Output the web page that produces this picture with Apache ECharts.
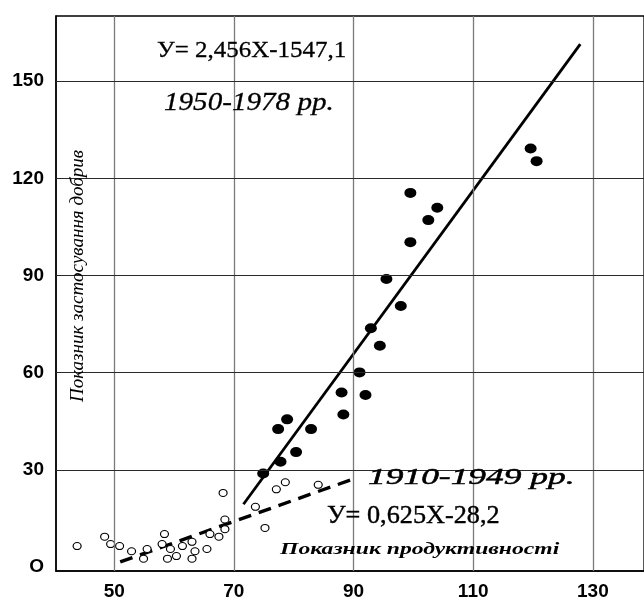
<!DOCTYPE html>
<html>
<head>
<meta charset="utf-8">
<script src="https://cdn.jsdelivr.net/npm/echarts@6/dist/echarts.min.js"></script>
<style>
html,body{margin:0;padding:0;background:#fff;}
#chart{width:644px;height:601px;}
</style>
</head>
<body>
<div id="chart"></div>
<script>
// Tick labels
var xTicks = [50, 70, 90, 110, 130];
var yTicks = [0, 30, 60, 90, 120, 150];

// 1910-1949 (open circles)
var oldPoints = [
  [43.8, 6.5], [48.4, 9.4], [49.4, 7.1], [50.9, 6.5], [52.9, 4.9], [54.9, 2.6],
  [55.5, 5.6], [58.0, 7.1], [58.4, 10.2], [58.9, 2.6], [59.4, 5.6], [60.4, 3.4],
  [61.4, 6.5], [63.0, 7.8], [63.5, 4.9], [63.0, 2.6], [65.5, 5.6], [66.0, 10.2],
  [67.5, 9.4], [68.5, 11.7], [68.5, 14.7], [68.2, 22.9], [73.6, 18.6], [75.2, 12.1],
  [77.1, 24.0], [78.6, 26.2], [84.1, 25.4]
];

// 1950-1978 (filled points)
var newPoints = [
  [119.6, 129.2], [120.6, 125.3], [99.5, 115.5], [104.0, 110.9], [102.5, 107.1],
  [99.5, 100.3], [95.5, 88.9], [97.9, 80.6], [92.9, 73.7], [94.4, 68.3],
  [91.0, 60.1], [88.0, 53.9], [92.0, 53.1], [88.3, 47.1], [78.9, 45.6],
  [77.4, 42.6], [82.9, 42.6], [80.4, 35.5], [77.8, 32.5], [74.9, 28.9]
];

// Regression lines (end points)
var fitNew = [[71.6, 19.4], [127.9, 161.4]];
var fitOld = [[51.0, 1.6], [89.5, 26.9]];

// Texts
var eqNew = 'У= 2,456X-1547,1';
var periodNew = '1950-1978 рр.';
var periodOld = '1910-1949 рр.';
var eqOld = 'У= 0,625X-28,2';
var xTitle = 'Показник продуктивності';
var yTitle = 'Показник застосування добрив';

var chart = echarts.init(document.getElementById('chart'), null, {renderer: 'canvas'});

var gridLines = xTicks.map(function (v) {
  return {xAxis: v, lineStyle: {color: '#7a7a7a', width: 1.3, type: 'solid'}};
}).concat(yTicks.filter(function (v) { return v > 0; }).map(function (v) {
  return {yAxis: v, lineStyle: {color: '#2a2a2a', width: 1.1, type: 'solid'}};
}));

var option = {
  animation: false,
  backgroundColor: '#fff',
  grid: {left: 56, right: -3, top: 16, bottom: 30, show: true, borderColor: '#000', borderWidth: 1.3, backgroundColor: 'transparent'},
  xAxis: {
    type: 'value', min: 40.27, max: 138.55,
    splitLine: {show: false},
    axisTick: {show: false},
    axisLine: {show: true, onZero: false, lineStyle: {color: '#000', width: 1.5}},
    axisLabel: {
      customValues: xTicks, margin: 11,
      color: '#000', fontFamily: 'Liberation Sans', fontWeight: 'bold', fontSize: 19
    }
  },
  yAxis: {
    type: 'value', min: -1.2, max: 170.1,
    splitLine: {show: false},
    axisTick: {show: false},
    axisLine: {show: true, onZero: false, lineStyle: {color: '#000', width: 1.5}},
    axisLabel: {
      customValues: yTicks, margin: 12,
      color: '#000', fontFamily: 'Liberation Sans', fontWeight: 'bold', fontSize: 19,
      formatter: function (v) { return v === 0 ? 'O' : String(v); }
    }
  },
  series: [
    {
      type: 'line', data: [], z: 1, silent: true,
      markLine: {silent: true, symbol: ['none', 'none'], label: {show: false}, animation: false, data: gridLines}
    },
    {
      type: 'line', data: fitOld, z: 3, symbol: 'none', silent: true,
      lineStyle: {color: '#000', width: 3.4, type: [13, 8]}
    },
    {
      type: 'line', data: fitNew, z: 3, symbol: 'none', silent: true,
      lineStyle: {color: '#000', width: 2.8, type: 'solid'}
    },
    {
      type: 'scatter', data: oldPoints, z: 4, symbol: 'circle', symbolSize: [8, 7],
      itemStyle: {color: '#fff', borderColor: '#000', borderWidth: 1.1, opacity: 1}
    },
    {
      type: 'scatter', data: newPoints, z: 4, symbol: 'circle', symbolSize: [12, 10],
      itemStyle: {color: '#000', opacity: 1}
    }
  ],
  graphic: [
    {type: 'text', x: 157, y: 51, z: 10, scaleX: 1.04, style: {text: eqNew, fill: '#000', stroke: '#000', lineWidth: 0.3, font: '24px "Liberation Serif"', textAlign: 'left', textVerticalAlign: 'middle'}},
    {type: 'text', x: 164, y: 103, z: 10, scaleX: 1.12, style: {text: periodNew, fill: '#000', stroke: '#000', lineWidth: 0.3, font: 'italic 26px "Liberation Serif"', textAlign: 'left', textVerticalAlign: 'middle'}},
    {type: 'text', x: 368, y: 478, z: 10, scaleX: 1.54, style: {text: periodOld, fill: '#000', stroke: '#000', lineWidth: 0.5, font: 'italic 23px "Liberation Serif"', textAlign: 'left', textVerticalAlign: 'middle'}},
    {type: 'text', x: 327, y: 516, z: 10, scaleX: 1.05, style: {text: eqOld, fill: '#000', stroke: '#000', lineWidth: 0.4, font: '25px "Liberation Serif"', textAlign: 'left', textVerticalAlign: 'middle'}},
    {type: 'text', x: 280, y: 550, z: 10, scaleX: 1.39, style: {text: xTitle, fill: '#000', font: 'italic bold 17px "Liberation Serif"', textAlign: 'left', textVerticalAlign: 'middle'}},
    {type: 'text', x: 78, y: 276, z: 10, rotation: Math.PI / 2, style: {text: yTitle, fill: '#000', font: 'italic 19px "Liberation Serif"', textAlign: 'center', textVerticalAlign: 'middle'}}
  ]
};
chart.setOption(option);
</script>
</body>
</html>
